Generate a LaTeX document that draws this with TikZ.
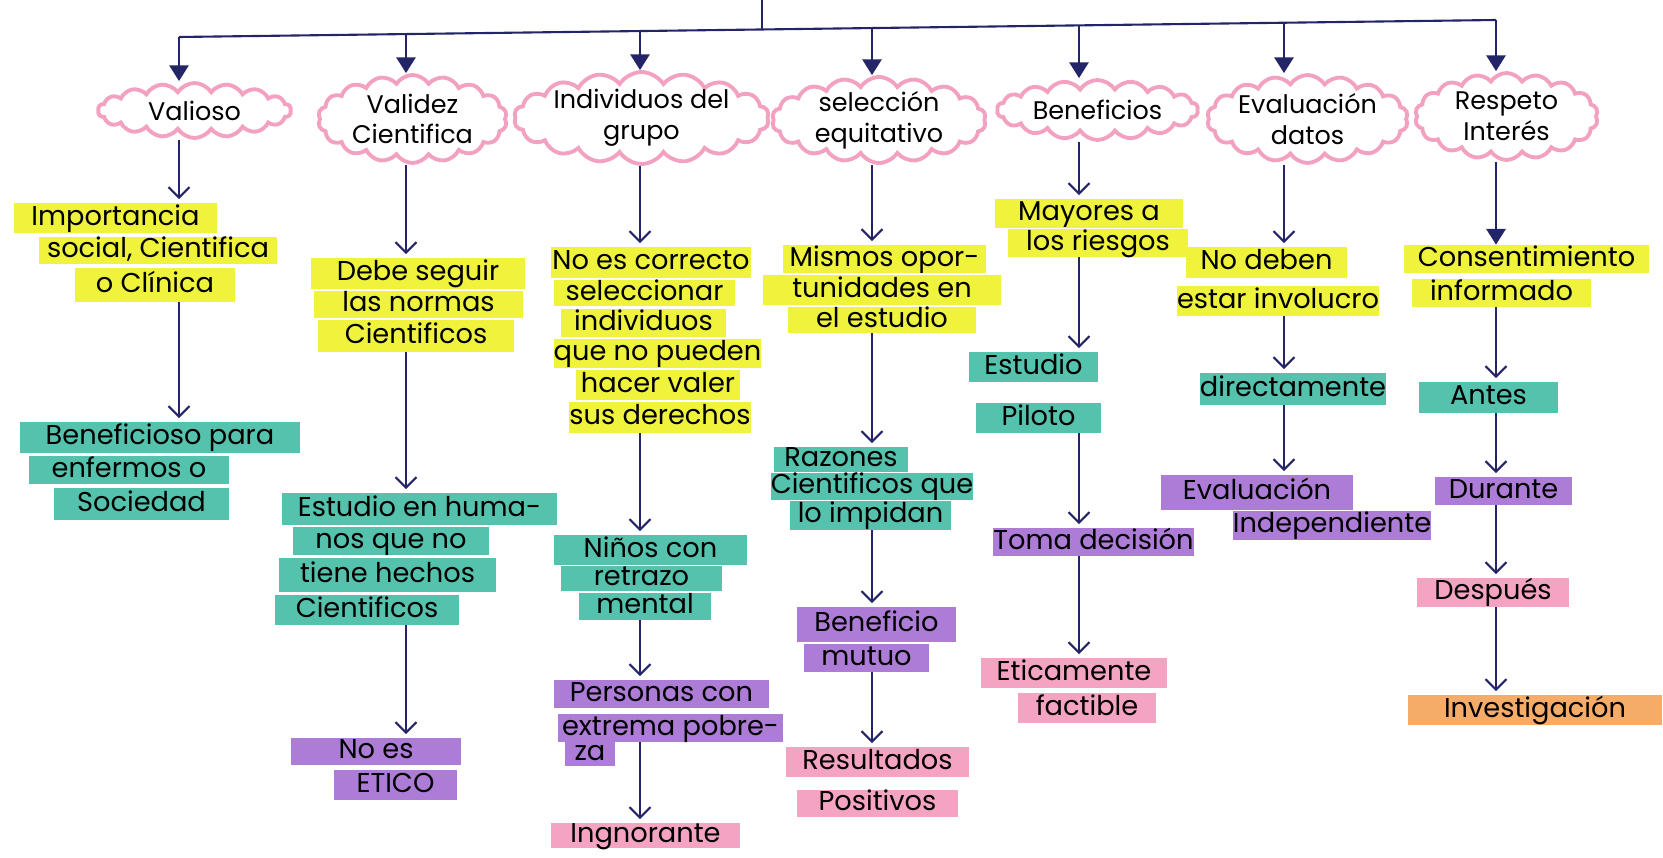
\documentclass[tikz,border=0pt]{standalone}
\usepackage{fontspec}
\setmainfont{Poppins}
\usetikzlibrary{arrows.meta, shapes.symbols}

\definecolor{hlyellow}{RGB}{240,243,60}
\definecolor{hlteal}{RGB}{84,194,172}
\definecolor{hlpurple}{RGB}{172,124,214}
\definecolor{hlpink}{RGB}{244,164,194}
\definecolor{hlorange}{RGB}{245,172,104}
\definecolor{cloudpink}{RGB}{242,162,192}
\definecolor{navy}{RGB}{36,36,104}

\begin{document}
\begin{tikzpicture}[x=0.02cm, y=-0.02cm,
  spot/.style args={#1,#2,#3,#4}{minimum width={(#3-#1)*0.02cm},
    minimum height={(#4-#2)*0.02cm}, at={({(#1+#3)/2},{(#2+#4)/2})}},
  strip/.style={rectangle, inner sep=0pt, fill=#1, text height=11pt, text depth=3pt,
    font=\fontsize{15.5}{18}\selectfont},
  idea/.style={cloud, cloud puffs=18, cloud puff arc=115, cloud ignores aspect,
    inner xsep=-14pt, inner ysep=-10pt, align=center,
    draw=cloudpink, line width=2.2pt, font=\fontsize{14.5}{17.5}\selectfont},
  bar/.style={draw=navy, line width=1.2pt},
  head/.style={bar, -{Triangle[length=9pt, width=11pt]}},
  down/.style={bar, shorten >=2pt, -{Straight Barb[length=6pt, width=12pt]}}]
\useasboundingbox (0,0) rectangle (1663,858);
% Column positions on the bar
\coordinate (root) at (762,0);
\coordinate (join) at (762,29);
\coordinate (k1) at (179,37);
\coordinate (k2) at (406,34);
\coordinate (k3) at (640,31);
\coordinate (k4) at (872,28);
\coordinate (k5) at (1079,25);
\coordinate (k6) at (1284,23);
\coordinate (k7) at (1496,20);
% Draw top line and bar
\draw[bar] (root) -- (join);
\draw[bar] (k1) -- (k7);
% Draw clouds
\node[idea, spot={98,83,291,138}] (cl1) {Valioso};
\node[idea, spot={318,75,507,163}] (cl2) {Validez\\ Cientifica};
\node[idea, spot={514,72,769,164}] (cl3) {Individuos del\\ grupo};
\node[idea, spot={772,77,986,163}] (cl4) {selección\\ equitativo};
\node[idea, spot={997,80,1198,140}] (cl5) {Beneficios};
\node[idea, spot={1207,75,1408,163}] (cl6) {Evaluación\\ datos};
\node[idea, spot={1415,73,1598,160}] (cl7) {Respeto\\ Interés};
% Arrows from bar
\foreach \i in {1,...,7}
  \draw[head] (k\i) -- (k\i |- cl\i.north);
% Valioso
\node[strip=hlyellow, spot={14,203,217,233}] (v1) {Importancia};
\node[strip=hlyellow, spot={39,237,277,264}] (v2) {social, Cientifica};
\node[strip=hlyellow, spot={75,268,235,302}] (v3) {o Clínica};
\node[strip=hlteal, spot={20,422,300,453}] (v4) {Beneficioso para};
\node[strip=hlteal, spot={29,456,229,484}] (v5) {enfermos o};
\node[strip=hlteal, spot={54,488,229,520}] (v6) {Sociedad};
\draw[down] (k1 |- cl1.south) -- (k1 |- v1.north);
\draw[down] (k1 |- v3.south) -- (k1 |- v4.north);
% Validez
\node[strip=hlyellow, spot={311,258,525,289}] (d1) {Debe seguir};
\node[strip=hlyellow, spot={314,291,523,318}] (d2) {las normas};
\node[strip=hlyellow, spot={318,320,514,352}] (d3) {Cientificos};
\node[strip=hlteal, spot={282,493,557,525}] (d4) {Estudio en huma-};
\node[strip=hlteal, spot={293,527,489,555}] (d5) {nos que no};
\node[strip=hlteal, spot={279,558,496,592}] (d6) {tiene hechos};
\node[strip=hlteal, spot={275,595,459,625}] (d7) {Cientificos};
\node[strip=hlpurple, spot={291,738,461,765}] (d8) {No es};
\node[strip=hlpurple, spot={334,770,457,800}] (d9) {ETICO};
\draw[down] (k2 |- cl2.south) -- (k2 |- d1.north);
\draw[down] (k2 |- d3.south) -- (k2 |- d4.north);
\draw[down] (k2 |- d7.south) -- (k2 |- d8.north);
% Individuos del grupo
\node[strip=hlyellow, spot={551,247,751,278}] (g1) {No es correcto};
\node[strip=hlyellow, spot={554,280,735,306}] (g2) {seleccionar};
\node[strip=hlyellow, spot={561,309,726,337}] (g3) {individuos};
\node[strip=hlyellow, spot={561,339,754,368}] (g4) {que no pueden};
\node[strip=hlyellow, spot={576,370,740,400}] (g5) {hacer valer};
\node[strip=hlyellow, spot={569,402,751,433}] (g6) {sus derechos};
\node[strip=hlteal, spot={554,535,747,565}] (g7) {Niños con};
\node[strip=hlteal, spot={561,566,722,591}] (g8) {retrazo};
\node[strip=hlteal, spot={579,593,711,620}] (g9) {mental};
\node[strip=hlpurple, spot={554,680,769,708}] (g10) {Personas con};
\node[strip=hlpurple, spot={558,714,783,742}] (g11) {extrema pobre-};
\node[strip=hlpurple, spot={565,743,615,764}] (g12) {za};
\node[strip=hlpink, spot={551,823,740,848}] (g13) {Ingnorante};
\draw[down] (k3 |- cl3.south) -- (k3 |- g1.north);
\draw[down] (k3 |- g6.south) -- (k3 |- g7.north);
\draw[down] (k3 |- g9.south) -- (k3 |- g10.north);
\draw[down] (k3 |- g11.south) -- (k3 |- g13.north);
% seleccion equitativo
\node[strip=hlyellow, spot={783,245,986,273}] (s1) {Mismos opor-};
\node[strip=hlyellow, spot={763,275,1001,305}] (s2) {tunidades en};
\node[strip=hlyellow, spot={788,307,976,333}] (s3) {el estudio};
\node[strip=hlteal, spot={774,447,908,472}] (s4) {Razones};
\node[strip=hlteal, spot={772,473,972,500}] (s5) {Cientificos que};
\node[strip=hlteal, spot={790,501,951,530}] (s6) {lo impidan};
\node[strip=hlpurple, spot={797,607,956,642}] (s7) {Beneficio};
\node[strip=hlpurple, spot={804,644,929,672}] (s8) {mutuo};
\node[strip=hlpink, spot={786,747,969,777}] (s9) {Resultados};
\node[strip=hlpink, spot={797,790,958,817}] (s10) {Positivos};
\draw[down] (k4 |- cl4.south) -- (k4 |- s1.north);
\draw[down] (k4 |- s3.south) -- (k4 |- s4.north);
\draw[down] (k4 |- s6.south) -- (k4 |- s7.north);
\draw[down] (k4 |- s8.south) -- (k4 |- s9.north);
% Beneficios
\node[strip=hlyellow, spot={995,199,1183,228}] (b1) {Mayores a};
\node[strip=hlyellow, spot={1008,229,1188,257}] (b2) {los riesgos};
\node[strip=hlteal, spot={969,352,1098,382}] (b3) {Estudio};
\node[strip=hlteal, spot={976,403,1101,433}] (b4) {Piloto};
\node[strip=hlpurple, spot={995,528,1192,556}] (b5) {Toma decisión};
\node[strip=hlpink, spot={981,658,1167,688}] (b6) {Eticamente};
\node[strip=hlpink, spot={1018,693,1156,723}] (b7) {factible};
\draw[down] (k5 |- cl5.south) -- (k5 |- b1.north);
\draw[down] (k5 |- b2.south) -- (k5 |- b3.north);
\draw[down] (k5 |- b4.south) -- (k5 |- b5.north);
\draw[down] (k5 |- b5.south) -- (k5 |- b6.north);
% Evaluacion datos
\node[strip=hlyellow, spot={1186,247,1347,278}] (e1) {No deben};
\node[strip=hlyellow, spot={1177,286,1379,316}] (e2) {estar involucro};
\node[strip=hlteal, spot={1207,373,1379,405}] (e3) {directamente};
\node[strip=hlpurple, spot={1161,475,1353,510}] (e4) {Evaluación};
\node[strip=hlpurple, spot={1240,511,1424,540}] (e5) {Independiente};
\draw[down] (k6 |- cl6.south) -- (k6 |- e1.north);
\draw[down] (k6 |- e2.south) -- (k6 |- e3.north);
\draw[down] (k6 |- e3.south) -- (k6 |- e4.north);
% Respeto Interes
\node[strip=hlyellow, spot={1404,245,1649,273}] (r1) {Consentimiento};
\node[strip=hlyellow, spot={1412,279,1591,307}] (r2) {informado};
\node[strip=hlteal, spot={1419,382,1558,413}] (r3) {Antes};
\node[strip=hlpurple, spot={1435,477,1572,505}] (r4) {Durante};
\node[strip=hlpink, spot={1417,578,1569,607}] (r5) {Después};
\node[strip=hlorange, spot={1408,695,1662,725}] (r6) {Investigación};
\draw[head] (k7 |- cl7.south) -- (k7 |- r1.north);
\draw[down] (k7 |- r2.south) -- (k7 |- r3.north);
\draw[down] (k7 |- r3.south) -- (k7 |- r4.north);
\draw[down] (k7 |- r4.south) -- (k7 |- r5.north);
\draw[down] (k7 |- r5.south) -- (k7 |- r6.north);
\end{tikzpicture}
\end{document}
